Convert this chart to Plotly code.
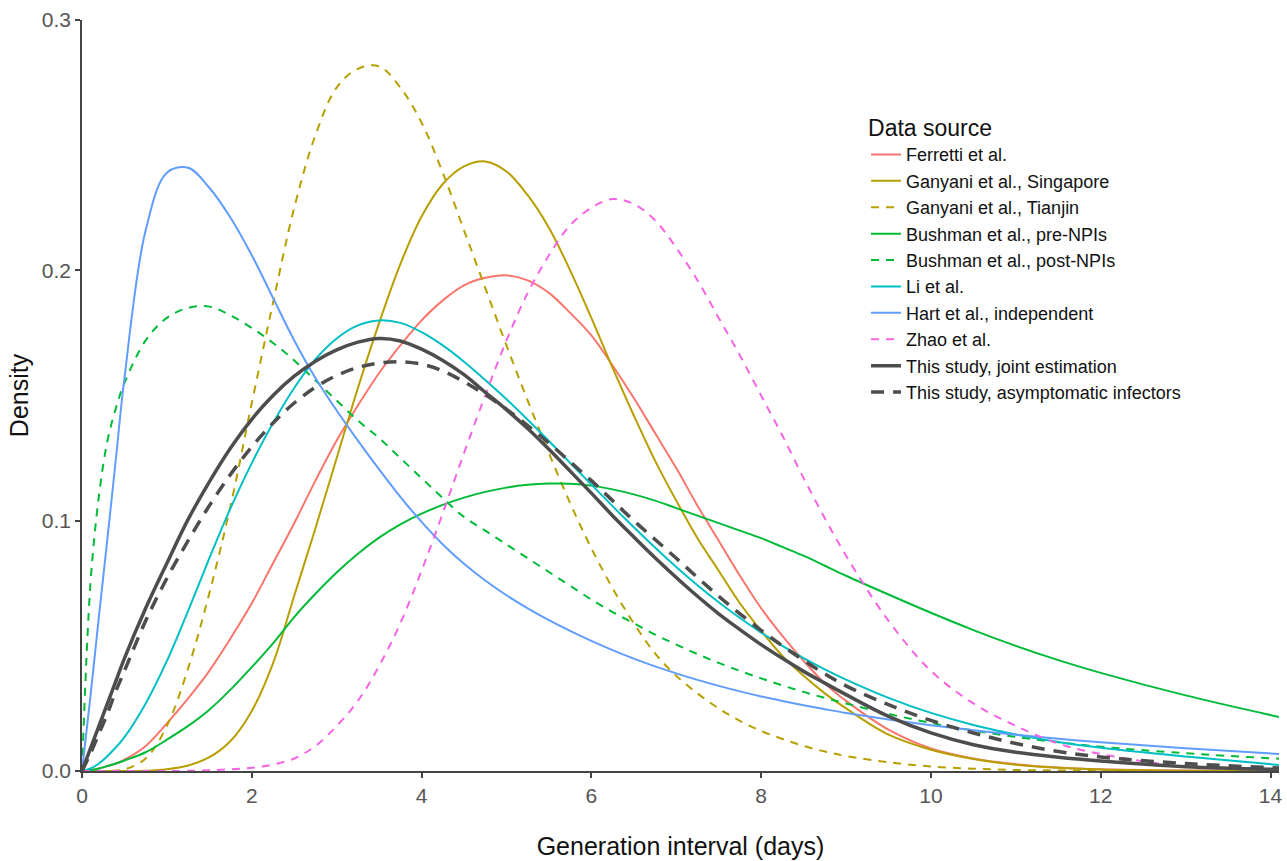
import plotly.graph_objects as go

# Generation interval (days) at which densities were read
gen_interval = [0, 0.1, 0.2, 0.3, 0.4, 0.5, 0.75, 1.0, 1.25, 1.5, 1.75, 2.0, 2.25, 2.5, 2.75,
                3.0, 3.25, 3.5, 3.75, 4.0, 4.25, 4.5, 4.75, 5.0, 5.25, 5.5, 5.75, 6.0, 6.25,
                6.5, 6.75, 7.0, 7.25, 7.5, 7.75, 8.0, 8.25, 8.5, 8.75, 9.0, 9.5, 10, 10.5,
                11, 11.5, 12, 13, 14.1]

ferretti = [0, 0.0003, 0.001, 0.002, 0.003, 0.0045, 0.010, 0.019, 0.029, 0.040, 0.053, 0.067,
            0.083, 0.099, 0.116, 0.132, 0.146, 0.159, 0.170, 0.180, 0.188, 0.194, 0.197, 0.198,
            0.196, 0.191, 0.183, 0.174, 0.162, 0.149, 0.135, 0.121, 0.106, 0.092, 0.078, 0.065,
            0.054, 0.044, 0.035, 0.028, 0.0165, 0.009, 0.005, 0.0027, 0.0014, 0.0007, 0.0002, 0]

ganyani_singapore = [0, 0, 0, 0, 0, 0, 0.0001, 0.0007, 0.0022, 0.0055, 0.012, 0.024, 0.043,
                     0.070, 0.097, 0.125, 0.153, 0.179, 0.2025, 0.2215, 0.2345, 0.2415, 0.2435,
                     0.2395, 0.230, 0.217, 0.200, 0.181, 0.161, 0.142, 0.124, 0.108, 0.093,
                     0.080, 0.067, 0.056, 0.046, 0.038, 0.031, 0.025, 0.0145, 0.0085, 0.0048,
                     0.0025, 0.0013, 0.0006, 0.0001, 0]

ganyani_tianjin = [0, 0, 0, 0, 0.0002, 0.0006, 0.005, 0.018, 0.041, 0.071, 0.106, 0.147, 0.187,
                   0.225, 0.254, 0.273, 0.2805, 0.2815, 0.273, 0.259, 0.239, 0.216, 0.193,
                   0.170, 0.148, 0.127, 0.107, 0.089, 0.073, 0.059, 0.047, 0.038, 0.031, 0.025,
                   0.020, 0.016, 0.0128, 0.010, 0.0078, 0.006, 0.0035, 0.0018, 0.0009, 0.0004,
                   0.0002, 0.0001, 0, 0]

bushman_pre = [0, 0.0003, 0.001, 0.002, 0.003, 0.0042, 0.0075, 0.0125, 0.018, 0.0245, 0.0325,
               0.0415, 0.051, 0.0615, 0.0708, 0.0793, 0.0868, 0.0932, 0.0985, 0.1028, 0.1063,
               0.1092, 0.1115, 0.1132, 0.1143, 0.1148, 0.1147, 0.114, 0.1125, 0.1105, 0.108,
               0.105, 0.102, 0.099, 0.096, 0.093, 0.0895, 0.086, 0.082, 0.078, 0.0705, 0.0632,
               0.0563, 0.050, 0.0443, 0.0392, 0.0302, 0.0216]

bushman_post = [0, 0.075, 0.110, 0.132, 0.145, 0.155, 0.172, 0.181, 0.185, 0.1855, 0.182,
                0.177, 0.171, 0.164, 0.156, 0.148, 0.140, 0.133, 0.125, 0.117, 0.109, 0.1015,
                0.096, 0.0905, 0.085, 0.0795, 0.074, 0.0685, 0.0635, 0.059, 0.0545, 0.0505,
                0.0467, 0.0432, 0.040, 0.037, 0.0342, 0.0316, 0.0292, 0.027, 0.0228, 0.0192,
                0.0162, 0.0136, 0.0115, 0.0097, 0.0071, 0.0049]

li = [0, 0.001, 0.003, 0.006, 0.0095, 0.0135, 0.027, 0.044, 0.064, 0.085, 0.105, 0.123, 0.139,
      0.153, 0.1645, 0.1728, 0.178, 0.180, 0.179, 0.1753, 0.170, 0.1635, 0.1562, 0.1485,
      0.1403, 0.1318, 0.1231, 0.1144, 0.1058, 0.0974, 0.0893, 0.0815, 0.0742, 0.0674, 0.0611,
      0.0553, 0.050, 0.0451, 0.0406, 0.0365, 0.0292, 0.0232, 0.0184, 0.0146, 0.0116, 0.0093,
      0.0058, 0.0024]

hart = [0, 0.030, 0.062, 0.093, 0.125, 0.157, 0.216, 0.239, 0.241, 0.233, 0.221, 0.206, 0.189,
        0.172, 0.157, 0.144, 0.132, 0.1205, 0.1095, 0.0995, 0.0905, 0.0828, 0.0761, 0.0702,
        0.065, 0.0603, 0.056, 0.052, 0.0483, 0.0449, 0.0418, 0.039, 0.0364, 0.034, 0.0318,
        0.0298, 0.028, 0.0263, 0.0247, 0.0232, 0.0206, 0.0183, 0.0163, 0.0145, 0.0129,
        0.0115, 0.0091, 0.0068]

zhao = [0, 0, 0, 0, 0, 0, 0, 0, 0.0001, 0.0003, 0.0007, 0.0013, 0.0026, 0.005, 0.010, 0.018,
        0.028, 0.042, 0.059, 0.080, 0.103, 0.127, 0.150, 0.172, 0.191, 0.206, 0.218, 0.225,
        0.2285, 0.2265, 0.220, 0.209, 0.196, 0.181, 0.166, 0.150, 0.134, 0.117, 0.101, 0.086,
        0.060, 0.040, 0.027, 0.018, 0.011, 0.0068, 0.0018, 0.0004]

study_joint = [0, 0.009, 0.018, 0.027, 0.036, 0.045, 0.065, 0.083, 0.1005, 0.1155, 0.129,
               0.1405, 0.150, 0.1577, 0.1637, 0.1682, 0.1713, 0.1728, 0.1718, 0.1685, 0.164,
               0.1583, 0.1513, 0.1443, 0.1368, 0.1285, 0.1198, 0.111, 0.102, 0.0935, 0.0852,
               0.0773, 0.0698, 0.0628, 0.0565, 0.0505, 0.045, 0.0398, 0.0351, 0.0305, 0.0218,
               0.0152, 0.0105, 0.0075, 0.0055, 0.004, 0.0017, 0.0006]

study_asymptomatic = [0, 0.007, 0.015, 0.023, 0.032, 0.040, 0.060, 0.077, 0.092, 0.106, 0.1185,
                      0.1295, 0.139, 0.147, 0.1533, 0.158, 0.1612, 0.163, 0.1635, 0.1625, 0.1598,
                      0.1555, 0.1503, 0.1445, 0.138, 0.131, 0.1235, 0.116, 0.108, 0.100, 0.0925,
                      0.085, 0.0773, 0.0698, 0.0628, 0.0562, 0.0500, 0.0442, 0.0388, 0.0340,
                      0.0265, 0.0202, 0.0152, 0.011, 0.0078, 0.0056, 0.003, 0.0012]

series_names = ["Ferretti et al.", "Ganyani et al., Singapore", "Ganyani et al., Tianjin",
                "Bushman et al., pre-NPIs", "Bushman et al., post-NPIs", "Li et al.",
                "Hart et al., independent", "Zhao et al.", "This study, joint estimation",
                "This study, asymptomatic infectors"]
series_values = [ferretti, ganyani_singapore, ganyani_tianjin, bushman_pre, bushman_post,
                 li, hart, zhao, study_joint, study_asymptomatic]

colors = ["#F8766D", "#B79F00", "#B79F00", "#00BA38", "#00BA38", "#00BFC4", "#619CFF",
          "#F564E3", "#4D4D4D", "#4D4D4D"]
dashes = ["solid", "solid", "8px,7px", "solid", "8px,7px", "solid", "solid", "8px,7px",
          "solid", "13px,9px"]
widths = [2, 2, 2, 2, 2, 2, 2, 2, 3.5, 3.5]

fig = go.Figure()
for name, vals, c, d, w in zip(series_names, series_values, colors, dashes, widths):
    fig.add_trace(go.Scatter(
        x=gen_interval, y=vals, mode="lines", name=name,
        line=dict(color=c, dash=d, width=w, shape="spline", smoothing=1.0),
    ))

font_family = "Liberation Sans, Arial, sans-serif"
axis_common = dict(
    showline=True, linecolor="#444444", linewidth=1.5, ticks="outside", ticklen=5,
    tickcolor="#444444", tickwidth=1.5, showgrid=False, zeroline=False,
    tickfont=dict(size=21, color="#555555", family=font_family),
)

fig.update_layout(
    width=1287, height=861,
    margin=dict(l=82, r=5, t=20, b=89),
    plot_bgcolor="white", paper_bgcolor="white",
    font=dict(family=font_family, color="#111111"),
    xaxis=dict(range=[0, 14.1], tickvals=[0, 2, 4, 6, 8, 10, 12, 14],
               title=dict(text="Generation interval (days)", font=dict(size=25, color="#111111"),
                          standoff=32),
               **axis_common),
    yaxis=dict(range=[0, 0.3], tickvals=[0, 0.1, 0.2, 0.3], tickformat=".1f",
               title=dict(text="Density", font=dict(size=25, color="#111111"), standoff=6),
               **axis_common),
    legend=dict(
        x=0.655, y=0.885, xanchor="left", yanchor="top",
        title=dict(text="Data source", font=dict(size=23, color="#111111")),
        font=dict(size=18, color="#111111"),
        bgcolor="rgba(0,0,0,0)",
    ),
    showlegend=True,
)

fig.write_html("out.html")
